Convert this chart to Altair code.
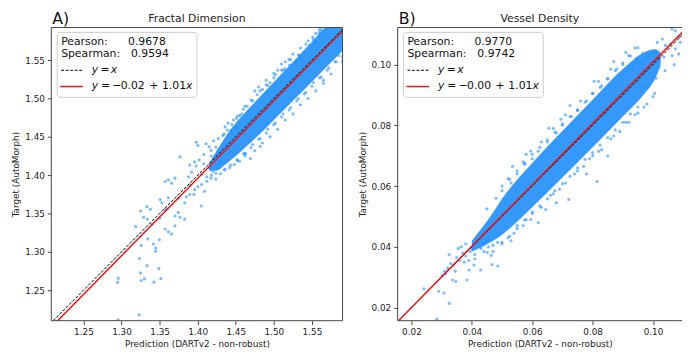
import altair as alt
import pandas as pd

# ---------------- Panel A : Fractal Dimension ----------------
A_dom_x = [1.2078, 1.5902]
A_dom_y = [1.2103, 1.5927]
A_ticks = [1.25, 1.30, 1.35, 1.40, 1.45, 1.50, 1.55]
A_fit = [-0.018, 1.01]          # intercept, slope of red fit line
A_stats = ["0.9678", "0.9594"]
A_fit_txt = ["0.02", "1.01"]

# dense core of the cloud (x, lower y, upper y)
A_band_x  = [1.415, 1.425, 1.435, 1.450, 1.470, 1.490, 1.510, 1.530, 1.550, 1.570, 1.5927]
A_band_lo = [1.406, 1.406, 1.413, 1.425, 1.443, 1.462, 1.482, 1.502, 1.522, 1.542, 1.565]
A_band_hi = [1.416, 1.432, 1.448, 1.468, 1.490, 1.511, 1.532, 1.553, 1.574, 1.5927, 1.5927]

# individual scattered points
A_pts_x = [
    1.5511, 1.5596, 1.5683, 1.5553, 1.5467, 1.5640, 1.5402, 1.5338, 1.5295, 1.5208, 1.5144, 1.5101,
    1.500, 1.495, 1.490, 1.485, 1.478, 1.470, 1.465, 1.460, 1.455, 1.447, 1.440, 1.436, 1.505, 1.525, 1.515, 1.5785,
    1.46, 1.47, 1.48, 1.49, 1.50, 1.51, 1.52, 1.53, 1.54, 1.55, 1.56, 1.57, 1.58, 1.585,
    1.4821, 1.4692, 1.4627, 1.4520, 1.4433, 1.4348, 1.495, 1.515, 1.545, 1.565, 1.59,
    1.3250, 1.3335, 1.3379, 1.3508, 1.3529, 1.3573, 1.3615, 1.3573, 1.3615, 1.3658, 1.3702, 1.3767,
    1.3896, 1.3960, 1.3981, 1.4003, 1.4110, 1.4175, 1.4239, 1.4348, 1.4433, 1.4520,
    1.3702, 1.3767, 1.3573, 1.3615, 1.3658, 1.3745, 1.3831, 1.3896, 1.3960, 1.4003, 1.4090, 1.4175,
    1.4239, 1.4046, 1.3831, 1.3702,
    1.3185, 1.3290, 1.3340, 1.3400, 1.3500, 1.3600, 1.3750, 1.3900, 1.4050, 1.4150, 1.4250, 1.4300,
    1.4080, 1.4200, 1.4300, 1.4120, 1.4270, 1.4380, 1.4180,
    1.2948, 1.2956, 1.3237, 1.3250, 1.3258, 1.3301, 1.3335, 1.3426, 1.3490, 1.3516, 1.3232,
    1.3258, 1.3418, 1.3447, 1.3447, 1.3495, 1.3344, 1.2956,
    1.402, 1.405, 1.408, 1.412, 1.415, 1.418, 1.421, 1.424, 1.427, 1.430, 1.433, 1.436, 1.439, 1.442,
    1.445, 1.448, 1.451, 1.455, 1.458, 1.462, 1.398, 1.395, 1.392, 1.388, 1.385,
    1.535, 1.545, 1.555, 1.560, 1.520, 1.510, 1.500, 1.490, 1.480, 1.475,
    1.575, 1.565, 1.555, 1.535, 1.525, 1.505, 1.485, 1.475, 1.590, 1.5927,
    1.452, 1.462, 1.472, 1.482, 1.492, 1.502, 1.512, 1.522, 1.532, 1.542, 1.552, 1.562,
    1.452, 1.462, 1.472, 1.482, 1.492, 1.502, 1.512, 1.522, 1.532, 1.542, 1.552, 1.562, 1.572, 1.582,
]
A_pts_y = [
    1.5799, 1.5863, 1.5905, 1.5735, 1.5692, 1.5756, 1.5606, 1.5564, 1.5478, 1.5436, 1.5392, 1.5372,
    1.527, 1.521, 1.518, 1.512, 1.505, 1.498, 1.490, 1.486, 1.478, 1.472, 1.468, 1.463, 1.537, 1.558, 1.548, 1.5927,
    1.428, 1.436, 1.447, 1.455, 1.466, 1.476, 1.485, 1.497, 1.506, 1.516, 1.527, 1.537, 1.548, 1.556,
    1.4376, 1.4218, 1.4282, 1.4196, 1.4132, 1.4068, 1.450, 1.472, 1.500, 1.524, 1.555,
    1.3533, 1.3590, 1.3555, 1.3683, 1.3641, 1.3555, 1.3705, 1.3918, 1.3940, 1.3897, 1.3962, 1.4239,
    1.4132, 1.4174, 1.4431, 1.4389, 1.4410, 1.4324, 1.4367, 1.4539, 1.4581, 1.4623,
    1.3469, 1.3453, 1.3299, 1.3264, 1.3235, 1.3513, 1.3641, 1.3748, 1.3812, 1.3854, 1.3790, 1.3962,
    1.4026, 1.3598, 1.3427, 1.3341,
    1.3333, 1.3450, 1.3430, 1.3360, 1.3440, 1.3560, 1.3700, 1.3870, 1.4010, 1.4100, 1.4220, 1.4280,
    1.4150, 1.4050, 1.4190, 1.3980, 1.4300, 1.4400, 1.4250,
    1.2603, 1.2658, 1.2914, 1.2726, 1.2628, 1.2649, 1.2821, 1.2606, 1.2782, 1.2654, 1.2180,
    1.3085, 1.3103, 1.3050, 1.3010, 1.3158, 1.3170, 1.2115,
    1.420, 1.388, 1.427, 1.392, 1.437, 1.400, 1.445, 1.395, 1.448, 1.402, 1.452, 1.408, 1.459, 1.410,
    1.466, 1.414, 1.474, 1.418, 1.480, 1.425, 1.412, 1.375, 1.404, 1.398, 1.372,
    1.566, 1.575, 1.585, 1.590, 1.551, 1.545, 1.533, 1.524, 1.515, 1.510,
    1.532, 1.520, 1.510, 1.492, 1.480, 1.460, 1.442, 1.432, 1.548, 1.560,
    1.477, 1.490, 1.497, 1.510, 1.517, 1.531, 1.537, 1.551, 1.557, 1.571, 1.577, 1.590,
    1.420, 1.429, 1.440, 1.448, 1.460, 1.468, 1.480, 1.488, 1.500, 1.508, 1.521, 1.528, 1.540, 1.548,
]

# ---------------- Panel B : Vessel Density ----------------
B_dom_x = [0.01544, 0.1096]
B_dom_y = [0.0157, 0.1122]
B_ticks = [0.02, 0.04, 0.06, 0.08, 0.10]
B_fit = [-0.0002, 1.01]
B_stats = ["0.9770", "0.9742"]
B_fit_txt = ["0.00", "1.01"]

B_band_x  = [0.0400, 0.0430, 0.0470, 0.0500, 0.0600, 0.0700, 0.0800, 0.0900, 0.0970, 0.1005, 0.1025]
B_band_lo = [0.0385, 0.0398, 0.0420, 0.0440, 0.0530, 0.0628, 0.0728, 0.0829, 0.0902, 0.0950, 0.0995]
B_band_hi = [0.0420, 0.0458, 0.0512, 0.0558, 0.0676, 0.0781, 0.0884, 0.0985, 0.1040, 0.1050, 0.1040]

B_pts_x = [
    0.1063, 0.1074, 0.1031, 0.1014, 0.1041, 0.1058, 0.1074, 0.1090, 0.1009, 0.0987, 0.0965, 0.0944,
    0.0960, 0.0933, 0.0922, 0.0998, 0.1020, 0.1036, 0.1063, 0.1085,
    0.1040, 0.1070, 0.1085, 0.1010, 0.0980,
    0.045, 0.048, 0.050, 0.053, 0.055, 0.058, 0.060, 0.062, 0.065, 0.068, 0.070, 0.073, 0.075,
    0.078, 0.080, 0.083, 0.085, 0.088, 0.090, 0.092, 0.0535, 0.0575, 0.0655, 0.0725, 0.0805, 0.087,
    0.047, 0.050, 0.052, 0.055, 0.058, 0.060, 0.0645, 0.066, 0.069, 0.0721, 0.074, 0.077, 0.080,
    0.083, 0.086, 0.089, 0.092, 0.095, 0.098, 0.062, 0.068, 0.078, 0.085, 0.1005, 0.0815,
    0.0241, 0.0290, 0.0308, 0.0325, 0.0284, 0.0325, 0.0384, 0.0347, 0.0336, 0.0303, 0.0314, 0.0467,
    0.0486, 0.0429, 0.0391, 0.0407, 0.0530, 0.0464, 0.0451,
    0.033, 0.035, 0.036, 0.037, 0.038, 0.0395, 0.040, 0.041, 0.042, 0.043, 0.044, 0.045, 0.0355,
    0.034, 0.0375, 0.039, 0.041, 0.044, 0.0455, 0.047, 0.0485, 0.032, 0.031, 0.0345, 0.0365, 0.038,
    0.052, 0.057, 0.063, 0.067, 0.071, 0.076, 0.082, 0.086, 0.091, 0.094, 0.0595, 0.0695,
    0.054, 0.057, 0.063, 0.067, 0.071, 0.075, 0.079, 0.082, 0.087, 0.091, 0.094, 0.097, 0.100, 0.0595,
    0.050, 0.055, 0.060, 0.065, 0.070, 0.075, 0.080, 0.085, 0.090, 0.095,
    0.050, 0.055, 0.060, 0.065, 0.070, 0.075, 0.080, 0.085, 0.090, 0.095,
    0.0525, 0.0575, 0.0625, 0.0675, 0.0725, 0.0775, 0.0825, 0.0875, 0.0925,
    0.0525, 0.0575, 0.0625, 0.0675, 0.0725, 0.0775, 0.0825, 0.0875, 0.0925,
]
B_pts_y = [
    0.1117, 0.1111, 0.1084, 0.1073, 0.1063, 0.1068, 0.1052, 0.1073, 0.1041, 0.1030, 0.1036, 0.1019,
    0.1009, 0.0998, 0.0987, 0.1009, 0.1019, 0.1025, 0.1030, 0.1090,
    0.0980, 0.1000, 0.1035, 0.0955, 0.0925,
    0.0525, 0.0560, 0.0585, 0.0610, 0.0640, 0.0705, 0.0690, 0.0715, 0.0745, 0.0775, 0.0800, 0.0830, 0.0850,
    0.0880, 0.0905, 0.0930, 0.0955, 0.0985, 0.1000, 0.1030, 0.0665, 0.0675, 0.0790, 0.0865, 0.0945, 0.1010,
    0.0385, 0.0415, 0.0430, 0.0470, 0.0490, 0.0515, 0.0523, 0.0570, 0.0590, 0.0556, 0.0640, 0.0665, 0.0700,
    0.0720, 0.0755, 0.0780, 0.0810, 0.0840, 0.0870, 0.0480, 0.0545, 0.0640, 0.0700, 0.0905, 0.0615,
    0.0262, 0.0254, 0.0248, 0.0214, 0.0162, 0.0375, 0.0291, 0.0286, 0.0291, 0.0307, 0.0312, 0.0342,
    0.0337, 0.0324, 0.0324, 0.0340, 0.0420, 0.0372, 0.0382,
    0.0345, 0.0365, 0.0355, 0.0380, 0.0370, 0.0385, 0.0395, 0.0375, 0.0410, 0.0395, 0.0410, 0.0420, 0.0395,
    0.0340, 0.0350, 0.0355, 0.0360, 0.0385, 0.0400, 0.0405, 0.0415, 0.0330, 0.0320, 0.0320, 0.0400, 0.0410,
    0.0625, 0.0680, 0.0745, 0.0790, 0.0835, 0.0880, 0.0945, 0.0985, 0.1040, 0.1055, 0.0715, 0.0820,
    0.0445, 0.0470, 0.0530, 0.0575, 0.0610, 0.0650, 0.0690, 0.0715, 0.0765, 0.0810, 0.0835, 0.0860, 0.0895, 0.0490,
    0.0600, 0.0650, 0.0705, 0.0752, 0.0805, 0.0850, 0.0905, 0.0952, 0.1005, 0.1055,
    0.0410, 0.0460, 0.0510, 0.0558, 0.0608, 0.0660, 0.0710, 0.0760, 0.0810, 0.0860,
    0.0622, 0.0672, 0.0728, 0.0778, 0.0828, 0.0876, 0.0925, 0.0980, 0.1028,
    0.0435, 0.0488, 0.0535, 0.0585, 0.0632, 0.0688, 0.0735, 0.0785, 0.0838,
]

FONT = "DejaVu Sans"
PT_COLOR = "#1e90ff"
BAND_COLOR = "#2993fb"
FRAME = "#444444"
H = 298


def txt(x, y, s, size=11, style="normal", align="left", baseline="middle", color="#111111"):
    return alt.Chart(pd.DataFrame({"t": [s]})).mark_text(
        font=FONT, fontSize=size, fontStyle=style, align=align, baseline=baseline, color=color
    ).encode(x=alt.value(x), y=alt.value(y), text="t:N")


def panel(W, dom_x, dom_y, ticks, band, pts, fit, stats, fit_txt, title, letter, full_frame):
    xs = alt.Scale(domain=dom_x, nice=False, zero=False)
    ys = alt.Scale(domain=dom_y, nice=False, zero=False)
    common = dict(format=".2f", labelFont=FONT, labelFontSize=9, titleFont=FONT, titleFontSize=9,
                  titleFontWeight="normal", tickColor=FRAME, labelColor="#222222",
                  titleColor="#222222", domain=False, grid=False, tickSize=4, labelPadding=3)
    ax_x = alt.Axis(values=ticks, title="Prediction (DARTv2 - non-robust)", titlePadding=3, **common)
    ax_y = alt.Axis(values=ticks, title="Target (AutoMorph)", titlePadding=4, **common)

    dband = pd.DataFrame({"x": band[0], "y": band[1], "y2": band[2]})
    dpts = pd.DataFrame({"x": pts[0], "y": pts[1]})
    lo = min(dom_x[0], dom_y[0]) - 0.01
    hi = max(dom_x[1], dom_y[1]) + 0.01
    did = pd.DataFrame({"x": [lo, hi], "y": [lo, hi]})
    dfit = pd.DataFrame({"x": [lo, hi], "y": [fit[0] + fit[1] * lo, fit[0] + fit[1] * hi]})

    X = alt.X("x:Q", scale=xs, axis=ax_x)
    Y = alt.Y("y:Q", scale=ys, axis=ax_y)

    band_l = alt.Chart(dband).mark_area(color=BAND_COLOR, opacity=0.95, interpolate="monotone",
                                        clip=True).encode(x=X, y=Y, y2="y2:Q")
    pts_l = alt.Chart(dpts).mark_circle(size=10, color=PT_COLOR, opacity=0.6, clip=True).encode(x=X, y=Y)
    id_l = alt.Chart(did).mark_line(color="#000000", strokeWidth=1, strokeDash=[3, 1.6], clip=True).encode(x=X, y=Y)
    fit_l = alt.Chart(dfit).mark_line(color="#ee1111", strokeWidth=1.5, clip=True).encode(x=X, y=Y)

    one = pd.DataFrame({"a": [0]})
    layers = [band_l, pts_l, id_l, fit_l]
    if full_frame:
        layers.append(alt.Chart(one).mark_rect(
            fillOpacity=0, stroke=FRAME, strokeWidth=1).encode(
            x=alt.value(0), x2=alt.value(W), y=alt.value(0), y2=alt.value(H)))
    else:
        layers.append(alt.Chart(one).mark_rule(color=FRAME, strokeWidth=1).encode(
            x=alt.value(0), x2=alt.value(W), y=alt.value(0)))
        layers.append(alt.Chart(one).mark_rule(color=FRAME, strokeWidth=1).encode(
            x=alt.value(0), x2=alt.value(W), y=alt.value(H)))
        layers.append(alt.Chart(one).mark_rule(color=FRAME, strokeWidth=1).encode(
            x=alt.value(0), y=alt.value(0), y2=alt.value(H)))

    # legend box
    layers.append(alt.Chart(one).mark_rect(
        fill="white", fillOpacity=0.85, stroke="#cccccc", strokeWidth=1, cornerRadius=3).encode(
        x=alt.value(6), x2=alt.value(148), y=alt.value(5), y2=alt.value(71)))
    layers += [
        txt(10, 14.5, "Pearson:"), txt(78, 14.5, stats[0]),
        txt(10, 27.5, "Spearman:"), txt(81, 27.5, stats[1]),
    ]
    layers.append(alt.Chart(one).mark_rule(color="#000000", strokeWidth=1, strokeDash=[3, 1.6]).encode(
        x=alt.value(10), x2=alt.value(32), y=alt.value(43.5)))
    layers.append(alt.Chart(one).mark_rule(color="#ee1111", strokeWidth=1.5).encode(
        x=alt.value(9), x2=alt.value(32), y=alt.value(60)))
    layers += [
        txt(41, 43, "y", style="italic"), txt(50, 43, "="), txt(60.5, 43, "x", style="italic"),
        txt(41, 59.5, "y", style="italic"), txt(50.5, 59.5, "="), txt(62, 59.5, "\u2212"),
        txt(70.5, 59.5, fit_txt[0]), txt(99.5, 59.5, "+"), txt(112.5, 59.5, fit_txt[1]),
        txt(137, 59.5, "x", style="italic"),
    ]
    # panel letter and title as text marks
    layers.append(txt(1, -4, letter, size=16, baseline="alphabetic"))
    layers.append(txt(W / 2, -9, title, size=11, align="center", color="#222222"))

    return alt.layer(*layers).properties(width=W, height=H)


pA = panel(296, A_dom_x, A_dom_y, A_ticks, (A_band_x, A_band_lo, A_band_hi), (A_pts_x, A_pts_y),
           A_fit, A_stats, A_fit_txt, "Fractal Dimension", "A)", True)
pB = panel(289, B_dom_x, B_dom_y, B_ticks, (B_band_x, B_band_lo, B_band_hi), (B_pts_x, B_pts_y),
           B_fit, B_stats, B_fit_txt, "Vessel Density", "B)", False)

chart = alt.hconcat(pA, pB, spacing=14).properties(
    padding={"left": 3, "top": 0, "right": 0, "bottom": 0}
).configure_view(stroke=None)

chart.save("out.html", embed_options={"renderer": "svg", "actions": False})
